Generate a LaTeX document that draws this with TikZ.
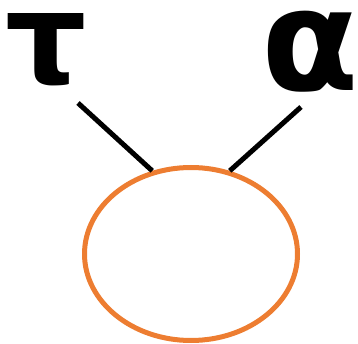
\documentclass[tikz,border=0pt]{standalone}
\usepackage{fontspec}
\setmainfont{DejaVu Sans}
\usetikzlibrary{shapes.geometric}
\definecolor{ellorange}{HTML}{ED7D31}
\tikzset{
	greek/.style={inner sep=0pt, font=\fontsize{128}{128}\selectfont\bfseries},
	bubble/.style={ellipse, draw=ellorange, line width=5pt, minimum width=213pt, minimum height=173pt},
	link/.style={line width=5pt, draw=black}
}
\begin{document}
\begin{tikzpicture}[x=1pt, y=-1pt]
	\useasboundingbox (0,0) rectangle (358,344);
	\node[greek] (tau) at (46,50) {τ};
	\node[greek, font=\fontsize{142}{142}\selectfont\bfseries] (alpha) at (310,52) {α};
	\node[bubble] (ell) at (191,254) {};
	\coordinate (tauend) at (78,103);
	\coordinate (alphaend) at (301,107);
	\draw[link] (tauend) -- (ell.115);
	\draw[link] (alphaend) -- (ell.65);
\end{tikzpicture}
\end{document}
